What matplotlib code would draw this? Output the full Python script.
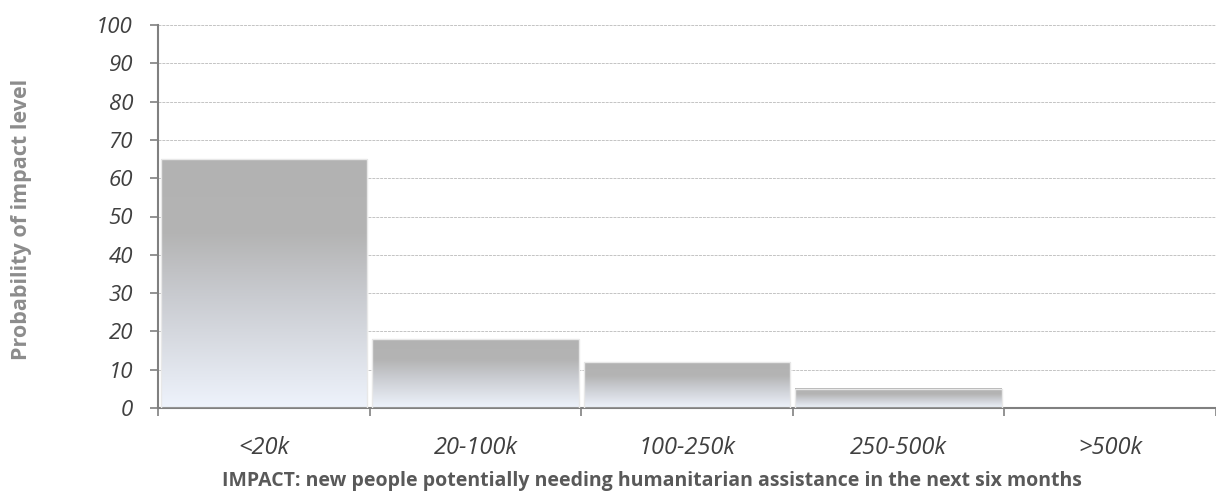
import matplotlib.pyplot as plt
import numpy as np
from matplotlib.colors import LinearSegmentedColormap

categories = ['<20k', '20-100k', '100-250k', '250-500k', '>500k']
probability = [65, 18, 12, 5, 0]
y_ticks = [0, 10, 20, 30, 40, 50, 60, 70, 80, 90, 100]

plt.rcParams['font.family'] = ['Open Sans', 'DejaVu Sans']

fig = plt.figure(figsize=(12.16, 4.91), dpi=100)
ax = fig.add_axes([158 / 1216, 1 - 408 / 491, 1 - 158 / 1216, (408 - 25) / 491])

# gradient grey (top) -> pale blue (bottom)
cmap = LinearSegmentedColormap.from_list('bar', [(0.0, '#eef3fc'), (0.45, '#c9cbd0'), (0.7, '#b4b4b4'), (1.0, '#b2b2b2')])
grad = np.linspace(0, 1, 256).reshape(-1, 1)

x = np.arange(len(categories))
width = 0.975
for xi, val in zip(x, probability):
    if val <= 0:
        continue
    ax.imshow(grad, cmap=cmap, origin='lower', aspect='auto',
              extent=(xi - width / 2, xi + width / 2, 0, val), zorder=2)
    ax.add_patch(plt.Rectangle((xi - width / 2, 0), width, val, fill=False,
                               edgecolor='#e8e8e8', lw=1.0, zorder=3))

ax.set_xlim(-0.5, len(categories) - 0.5)
ax.set_ylim(0, 100)
ax.set_yticks(y_ticks)
ax.set_yticklabels([str(t) for t in y_ticks], fontsize=16, style='italic', color='#404040')
ax.set_xticks(x)
ax.set_xticklabels(categories, fontsize=17, style='italic', color='#404040')
ax.set_xticks(np.arange(len(categories) + 1) - 0.5, minor=True)
ax.tick_params(axis='x', which='major', length=0, pad=20)
ax.tick_params(axis='x', which='minor', length=6, width=1.2, color='#808080')
ax.tick_params(axis='y', length=6, width=1.2, color='#808080', pad=12)

ax.grid(axis='y', linestyle=(0, (3, 1)), color='#c4c4c4', lw=0.7, zorder=0)
ax.set_axisbelow(True)
for s in ['top', 'right']:
    ax.spines[s].set_visible(False)
for s in ['left', 'bottom']:
    ax.spines[s].set_color('#808080')
    ax.spines[s].set_linewidth(1.5)

fig.text(22 / 1216, 1 - 219 / 491, 'Probability of impact level', rotation=90,
         ha='center', va='center', fontsize=15.5, fontweight='bold', color='#8c8c8c')
fig.text(652 / 1216, 1 - 481 / 491,
         'IMPACT: new people potentially needing humanitarian assistance in the next six months',
         ha='center', va='center', fontsize=14, fontweight='bold', color='#595959')

fig.savefig('out.png', dpi=100)
